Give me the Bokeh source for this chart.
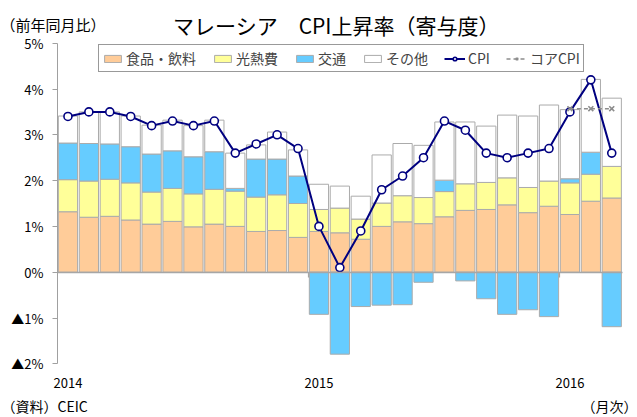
from bokeh.plotting import figure
from bokeh.models import (ColumnDataSource, FixedTicker, Label, Legend, LegendItem,
                          Range1d, LinearAxis)
from bokeh.embed import file_html
from bokeh.resources import INLINE

# ---- data (Jan 2014 .. Mar 2016, contribution to CPI in %pt) ----
months = list(range(27))
year_ticks = [0, 12, 24]
year_labels = ["2014", "2015", "2016"]
year_breaks = [11.5, 23.5]
y_ticks = [-2, -1, 0, 1, 2, 3, 4, 5]
y_labels = ["▲2%", "▲1%", "0%", "1%", "2%", "3%", "4%", "5%"]

food = [1.32, 1.20, 1.22, 1.14, 1.05, 1.11, 0.99, 1.05, 1.00, 0.89, 0.91, 0.76,
        0.89, 0.86, 0.72, 1.00, 1.10, 1.06, 1.21, 1.35, 1.37, 1.47, 1.30, 1.44,
        1.26, 1.55, 1.62]
utilities = [0.70, 0.79, 0.81, 0.81, 0.70, 0.72, 0.72, 0.76, 0.77, 0.75, 0.78, 0.74,
             0.48, 0.54, 0.44, 0.51, 0.57, 0.57, 0.55, 0.58, 0.59, 0.59, 0.55, 0.55,
             0.69, 0.59, 0.69]
transport = [0.80, 0.82, 0.77, 0.79, 0.83, 0.82, 0.81, 0.82, 0.06, 0.83, 0.78, 0.60,
             -0.92, -1.79, -0.75, -0.72, -0.71, -0.22, 0.25, -0.19, -0.58, -0.92, -0.82, -0.97,
             0.09, 0.48, -1.19]
other = [0.59, 0.69, 0.70, 0.67, 0.63, 0.67, 0.68, 0.69, 0.77, 0.31, 0.59, 0.57,
         0.55, 0.48, 0.50, 1.05, 1.14, 1.14, 1.27, 1.35, 1.23, 1.37, 1.56, 1.66,
         1.51, 1.59, 1.49]
cpi = [3.4, 3.5, 3.5, 3.4, 3.2, 3.3, 3.2, 3.3, 2.6, 2.8, 3.0, 2.7,
       1.0, 0.1, 0.9, 1.8, 2.1, 2.5, 3.3, 3.1, 2.6, 2.5, 2.6, 2.7,
       3.5, 4.2, 2.6]
core_months = [24, 25, 26]
core = [3.57, 3.57, 3.57]

FONT = "Noto Sans CJK JP"
C_FOOD = "#FFCC99"
C_UTIL = "#FFFF99"
C_TRANS = "#66CCFF"
C_OTHER = "#FFFFFF"
C_EDGE = "#ABABAB"
C_CPI = "#000080"
C_CORE = "#8C8C8C"
C_AXIS = "#A0A0A0"

# ---- layout: the frame covers the whole canvas; axes are pinned inside it ----
W_PX, H_PX = 637, 417
X0_PX, SX = 57.0, 20.915        # left edge of the first month slot, px per month
Y0_PX, SY = 271.7, 45.8         # y=0 position, px per 1%pt
x_range = Range1d(-0.5 - X0_PX / SX, -0.5 + (W_PX - X0_PX) / SX)
y_range = Range1d(-(H_PX - Y0_PX) / SY, Y0_PX / SY)

# ---- stacking ----
util_top = [f + u for f, u in zip(food, utilities)]
trans_pos_top = [u + max(t, 0) for u, t in zip(util_top, transport)]
other_top = [tp + o for tp, o in zip(trans_pos_top, other)]

src = ColumnDataSource(dict(x=months, zero=[0] * 27, food_top=food,
                            util_top=util_top, trans_pos_top=trans_pos_top,
                            other_top=other_top))
pos_idx = [i for i, t in enumerate(transport) if t > 0]
neg_idx = [i for i, t in enumerate(transport) if t < 0]
src_tp = ColumnDataSource(dict(x=[months[i] for i in pos_idx],
                               bottom=[util_top[i] for i in pos_idx],
                               top=[trans_pos_top[i] for i in pos_idx]))
src_tn = ColumnDataSource(dict(x=[months[i] for i in neg_idx],
                               bottom=[transport[i] for i in neg_idx],
                               top=[0] * len(neg_idx)))

p = figure(width=W_PX, height=H_PX, x_range=x_range, y_range=y_range,
           output_backend="svg", toolbar_location=None, min_border=0)
p.title.text = ""
p.title.visible = False
p.outline_line_color = None
p.xgrid.visible = False
p.ygrid.visible = False
p.background_fill_color = "white"
p.border_fill_color = "white"

W = 0.92
r_food = p.vbar(x="x", bottom="zero", top="food_top", width=W, source=src,
                fill_color=C_FOOD, line_color=C_EDGE, line_width=1)
r_util = p.vbar(x="x", bottom="food_top", top="util_top", width=W, source=src,
                fill_color=C_UTIL, line_color=C_EDGE, line_width=1)
r_tp = p.vbar(x="x", bottom="bottom", top="top", width=W, source=src_tp,
              fill_color=C_TRANS, line_color=C_EDGE, line_width=1)
r_tn = p.vbar(x="x", bottom="bottom", top="top", width=W, source=src_tn,
              fill_color=C_TRANS, line_color=C_EDGE, line_width=1)
r_other = p.vbar(x="x", bottom="trans_pos_top", top="other_top", width=W, source=src,
                 fill_color=C_OTHER, line_color=C_EDGE, line_width=1)

r_cpi_l = p.line(months, cpi, line_color=C_CPI, line_width=2)
r_cpi_m = p.scatter(months, cpi, marker="circle", size=8, fill_color="white",
                    line_color=C_CPI, line_width=1.6)
r_core_l = p.line(core_months, core, line_color=C_CORE, line_width=1.5, line_dash="4 3")
r_core_m = p.scatter(core_months, core, marker="x", size=7, line_color=C_CORE,
                     line_width=1.6)

# ---- axes ----
ya = p.yaxis[0]
ya.fixed_location = -0.5
ya.bounds = (y_ticks[0], y_ticks[-1])
ya.ticker = FixedTicker(ticks=y_ticks)
ya.major_label_overrides = {t: l for t, l in zip(y_ticks, y_labels)}
ya.axis_line_color = C_AXIS
ya.axis_line_width = 1
ya.major_tick_line_color = C_AXIS
ya.major_tick_out = 5
ya.major_tick_in = 0
ya.minor_tick_line_color = None
ya.major_label_standoff = 9
ya.major_label_text_font = FONT
ya.major_label_text_font_size = "13px"
ya.major_label_text_color = "black"

# year labels under the plot area
xa = p.xaxis[0]
xa.fixed_location = y_ticks[0]
xa.ticker = FixedTicker(ticks=year_ticks)
xa.major_label_overrides = {t: l for t, l in zip(year_ticks, year_labels)}
xa.axis_line_color = None
xa.major_tick_line_color = None
xa.minor_tick_line_color = None
xa.major_tick_out = 0
xa.major_tick_in = 0
xa.major_label_standoff = 14
xa.major_label_text_font = FONT
xa.major_label_text_font_size = "13px"
xa.major_label_text_color = "black"

# category axis line at 0 with ticks at the year boundaries
xz = LinearAxis(fixed_location=0, bounds=(-0.5, 26.5),
                ticker=FixedTicker(ticks=year_breaks),
                major_label_overrides={t: "" for t in year_breaks},
                axis_line_color="#A6A6A6", axis_line_width=1.5,
                major_tick_line_color="#A6A6A6", major_tick_line_width=1.2,
                major_tick_out=5, major_tick_in=0, minor_tick_line_color=None,
                major_label_text_font_size="1px")
p.add_layout(xz, "below")

# ---- legend ----
legend = Legend(items=[LegendItem(label="食品・飲料", renderers=[r_food]),
                       LegendItem(label="光熱費", renderers=[r_util]),
                       LegendItem(label="交通", renderers=[r_tp]),
                       LegendItem(label="その他", renderers=[r_other]),
                       LegendItem(label="CPI", renderers=[r_cpi_l, r_cpi_m]),
                       LegendItem(label="コアCPI", renderers=[r_core_l, r_core_m])],
                location=(98, 345), orientation="horizontal",
                border_line_color="#333333", border_line_width=1,
                padding=3, spacing=16, label_standoff=3, glyph_width=21, glyph_height=9,
                label_height=14, margin=0,
                label_text_font=FONT, label_text_font_size="14px")
p.add_layout(legend)

# ---- texts (screen units: from the left / bottom of the canvas-wide frame) ----
def txt(x, y, s, size, align="left"):
    p.add_layout(Label(x=x, y=y, x_units="screen", y_units="screen", text=s,
                       text_font=FONT, text_font_size=size, text_align=align,
                       text_baseline="middle", text_color="black"))

txt(0, H_PX - 24, "（前年同月比）", "15px")
txt(336, H_PX - 24.5, "マレーシア　CPI上昇率（寄与度）", "21px", "center")
txt(1, H_PX - 405.5, "（資料）CEIC", "14px")
txt(W_PX, H_PX - 405.5, "（月次）", "14px", "right")

open("out.html", "w").write(file_html(p, INLINE))
